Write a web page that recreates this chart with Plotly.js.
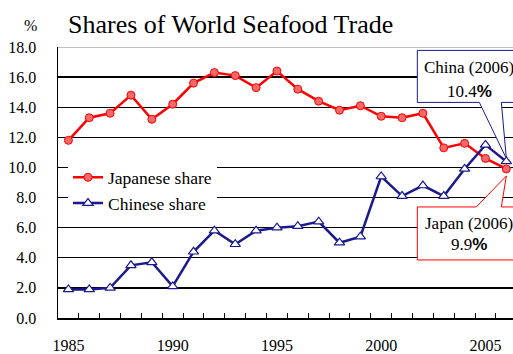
<!DOCTYPE html>
<html>
<head>
<meta charset="utf-8">
<script src="https://cdn.plot.ly/plotly-3.0.1.min.js"></script>
<style>
  html, body { margin: 0; padding: 0; background: #fff; overflow: hidden; }
  #chart { width: 513px; height: 354px; }
</style>
</head>
<body>
<div id="chart"></div>
<script>
// Shares of world seafood trade, percent
const years = [1985, 1986, 1987, 1988, 1989, 1990, 1991, 1992, 1993, 1994, 1995,
               1996, 1997, 1998, 1999, 2000, 2001, 2002, 2003, 2004, 2005, 2006];
const japaneseShare = [11.8, 13.3, 13.6, 14.8, 13.2, 14.2, 15.6, 16.3, 16.1, 15.3, 16.4,
                       15.2, 14.4, 13.8, 14.1, 13.4, 13.3, 13.6, 11.3, 11.6, 10.6, 9.9];
const chineseShare = [1.9, 1.9, 2.0, 3.5, 3.7, 2.1, 4.4, 5.8, 4.9, 5.8, 6.0,
                      6.1, 6.4, 5.0, 5.4, 9.4, 8.1, 8.8, 8.1, 9.9, 11.5, 10.4];
const yTicks = [0, 2, 4, 6, 8, 10, 12, 14, 16, 18];
const xLabelYears = [1985, 1990, 1995, 2000, 2005];

const serif = 'Liberation Serif, Times New Roman, serif';
const lastYear = years[years.length - 1];
const lastJapan = japaneseShare[japaneseShare.length - 1];
const lastChina = chineseShare[chineseShare.length - 1];
const pct = '<span style="font-family:Liberation Sans, Arial, sans-serif;font-weight:bold">%</span>';

const traces = [
  {
    x: years, y: japaneseShare, name: 'Japanese share',
    type: 'scatter', mode: 'lines+markers',
    line: { color: '#FF0000', width: 2.5 },
    marker: { symbol: 'circle', size: 8, color: '#F46A6A', line: { color: '#FF0000', width: 1 } }
  },
  {
    x: years, y: chineseShare, name: 'Chinese share',
    type: 'scatter', mode: 'lines+markers',
    line: { color: '#1A1A8C', width: 2.5 },
    marker: { symbol: 'triangle-up', size: 9, color: '#FFFFFF', line: { color: '#1A1A8C', width: 1.2 } }
  }
];

const layout = {
  width: 513, height: 354,
  margin: { l: 58, r: 0, t: 47, b: 36, pad: 0 },
  paper_bgcolor: '#FFFFFF', plot_bgcolor: '#FFFFFF',
  font: { family: serif, color: '#000000', size: 16 },
  title: {
    text: 'Shares of World Seafood Trade',
    font: { family: serif, size: 26, color: '#000000' },
    xref: 'container', x: 68 / 513, xanchor: 'left',
    yref: 'container', y: 1 - 24 / 354, yanchor: 'middle'
  },
  showlegend: true,
  legend: {
    x: 0.022, y: 0.585, xanchor: 'left', yanchor: 'top',
    bgcolor: '#FFFFFF', borderwidth: 0,
    font: { family: serif, size: 17.5, color: '#000000' },
    tracegroupgap: 0
  },
  xaxis: {
    range: [1984.5, 2006.32],
    tickmode: 'array', tickvals: xLabelYears, ticktext: xLabelYears.map(String),
    ticks: '', showgrid: false, zeroline: false,
    showline: true, linecolor: '#000000', linewidth: 1.5,
    ticklabelstandoff: 12,
    tickfont: { family: serif, size: 16, color: '#000000' },
    minor: {
      tickmode: 'array', tickvals: years.map(function (y) { return y + 0.5; }),
      ticks: 'inside', ticklen: 5, tickwidth: 1, tickcolor: '#000000', showgrid: false
    },
    fixedrange: true
  },
  yaxis: {
    range: [0, 18],
    tickmode: 'array', tickvals: yTicks, tickformat: '.1f',
    ticks: '', showgrid: true, gridcolor: '#000000', gridwidth: 1.3,
    zeroline: false, showline: true, linecolor: '#000000', linewidth: 1.5,
    ticklabelstandoff: 17,
    tickfont: { family: serif, size: 16, color: '#000000' },
    fixedrange: true
  },
  shapes: [
    // light top border of the plot area
    { type: 'line', xref: 'paper', yref: 'y', x0: 0, x1: 1, y0: 18, y1: 18,
      line: { color: '#AAAAAA', width: 1.3 }, layer: 'above' },
    // callout for China's latest share
    { type: 'path', xref: 'x', yref: 'y', xsizemode: 'pixel', ysizemode: 'pixel',
      xanchor: lastYear, yanchor: lastChina,
      path: 'M -89 111 L 20 111 L 20 59 L -5 59 L 0 3 L -27 59 L -89 59 Z',
      fillcolor: '#FFFFFF', line: { color: '#1A1A8C', width: 1 }, layer: 'between' },
    // callout for Japan's latest share
    { type: 'path', xref: 'x', yref: 'y', xsizemode: 'pixel', ysizemode: 'pixel',
      xanchor: lastYear, yanchor: lastJapan,
      path: 'M -89 -38 L -30 -38 L 0 -7 L -5 -38 L 20 -38 L 20 -91 L -89 -91 Z',
      fillcolor: '#FFFFFF', line: { color: '#FF0000', width: 1 }, layer: 'between' }
  ],
  annotations: [
    { text: '%', xref: 'paper', yref: 'paper', x: -28 / 455, y: 1 + 21 / 271,
      xanchor: 'center', yanchor: 'middle', showarrow: false,
      font: { family: serif, size: 16, color: '#000000' } },
    { text: 'China (' + lastYear + ')', xref: 'x', yref: 'y', x: lastYear, y: lastChina,
      xshift: -37, yshift: 94, xanchor: 'center', yanchor: 'middle', showarrow: false,
      font: { family: serif, size: 17, color: '#000000' } },
    { text: lastChina.toFixed(1) + pct, xref: 'x', yref: 'y', x: lastYear, y: lastChina,
      xshift: -37, yshift: 70, xanchor: 'center', yanchor: 'middle', showarrow: false,
      font: { family: serif, size: 17, color: '#000000' } },
    { text: 'Japan (' + lastYear + ')', xref: 'x', yref: 'y', x: lastYear, y: lastJapan,
      xshift: -37, yshift: -55, xanchor: 'center', yanchor: 'middle', showarrow: false,
      font: { family: serif, size: 17, color: '#000000' } },
    { text: lastJapan.toFixed(1) + pct, xref: 'x', yref: 'y', x: lastYear, y: lastJapan,
      xshift: -37, yshift: -76, xanchor: 'center', yanchor: 'middle', showarrow: false,
      font: { family: serif, size: 17, color: '#000000' } }
  ]
};

Plotly.newPlot('chart', traces, layout, { staticPlot: true, displayModeBar: false });
</script>
</body>
</html>
